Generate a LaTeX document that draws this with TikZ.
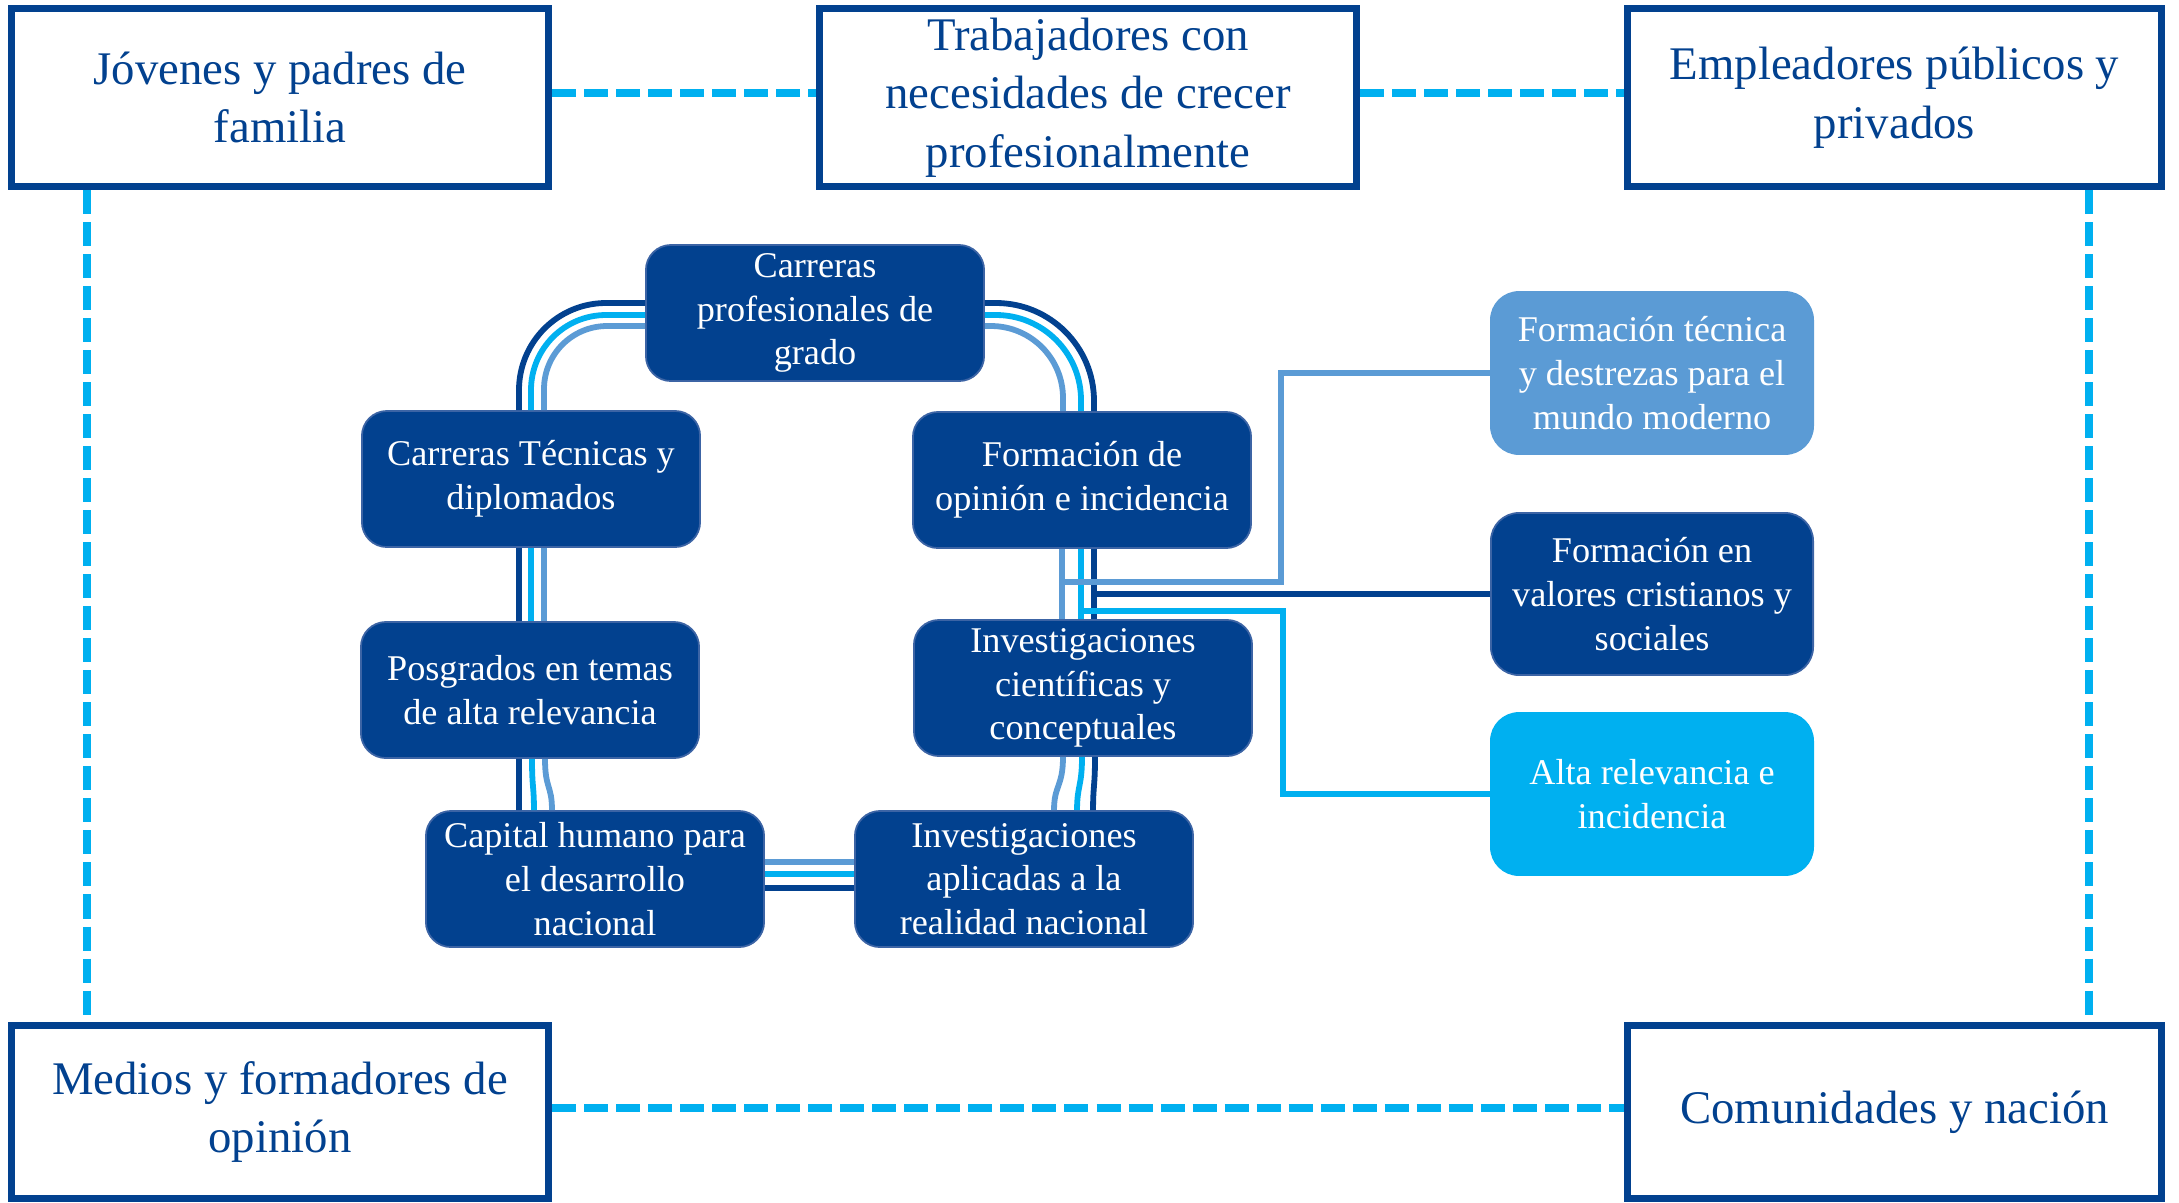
\documentclass[tikz,border=0pt]{standalone}
\usepackage{fontspec}
\setmainfont{Liberation Serif}
\definecolor{dkblue}{RGB}{2,65,143}
\definecolor{ltblue}{RGB}{0,176,240}
\definecolor{mdblue}{RGB}{91,155,213}
\definecolor{edgeblue}{RGB}{60,100,165}
\begin{document}
\begin{tikzpicture}[x=0.01cm,y=-0.01cm,
 outerbox/.style={draw=dkblue, line width=0.075cm, fill=white, text=dkblue, align=center,
   font=\fontsize{13.3}{16.7}\selectfont, inner sep=0pt, minimum width=5.365cm},
 innerbox/.style={fill=dkblue, draw=edgeblue, line width=0.5pt, rounded corners=0.25cm,
   text=white, align=center, font=\fontsize{10.3}{12.4}\selectfont,
   minimum width=3.38cm, minimum height=1.36cm, inner sep=0pt},
 sidebox/.style={innerbox, rounded corners=0.28cm, minimum width=3.22cm, minimum height=1.62cm},
 dashlink/.style={draw=ltblue, line width=0.075cm, dash pattern=on 0.24cm off 0.08cm},
 ringline/.style={line width=0.058cm},
 ldark/.style={ringline, draw=dkblue},
 llight/.style={ringline, draw=ltblue},
 lmed/.style={ringline, draw=mdblue}]
\useasboundingbox (0,0) rectangle (2179,1202);

% outer boxes
\node[outerbox, minimum height=1.775cm] (jov) at (280,97.5) {Jóvenes y padres de\\familia};
\node[outerbox, minimum height=1.775cm] (trab) at (1088,97.5) {Trabajadores con\\necesidades de crecer\\profesionalmente};
\node[outerbox, minimum height=1.775cm, minimum width=5.335cm] (emp) at (1894.5,97.5) {Empleadores públicos y\\privados};
\node[outerbox, minimum height=1.725cm] (med) at (280,1112) {Medios y formadores de\\opinión};
\node[outerbox, minimum height=1.725cm, minimum width=5.335cm] (com) at (1894.5,1112) {Comunidades y nación};

\coordinate (lx) at (87,0);
\coordinate (rx) at (2089,0);
\draw[dashlink] ([yshift=0.045cm]jov.east) -- ([yshift=0.045cm]trab.west);
\draw[dashlink] ([yshift=0.045cm]trab.east) -- ([yshift=0.045cm]emp.west);
\draw[dashlink] (jov.south -| lx) -- (med.north -| lx);
\draw[dashlink] (emp.south -| rx) -- (com.north -| rx);
\draw[dashlink] ([yshift=0.04cm]med.east) -- ([yshift=0.04cm]com.west);

% inner ring boxes
\node[innerbox] (cpg) at (815,313) {Carreras\\profesionales de\\grado};
\node[innerbox] (ctd) at (531,479) {Carreras Técnicas y\\diplomados};
\node[innerbox] (fop) at (1082,480) {Formación de\\opinión e incidencia};
\node[innerbox] (pos) at (530,690) {Posgrados en temas\\de alta relevancia};
\node[innerbox] (icc) at (1083,688) {Investigaciones\\científicas y\\conceptuales};
\node[innerbox] (chd) at (595,879) {Capital humano para\\el desarrollo\\nacional};
\node[innerbox] (iar) at (1024,879) {Investigaciones\\aplicadas a la\\realidad nacional};

% side boxes
\node[sidebox, fill=mdblue, draw=mdblue] (ftd) at (1652,373) {Formación técnica\\y destrezas para el\\mundo moderno};
\node[sidebox] (fvc) at (1652,594) {Formación en\\valores cristianos y\\sociales};
\node[sidebox, fill=ltblue, draw=ltblue] (arl) at (1652,794) {Alta relevancia e\\incidencia};

% ring: top-left arc
\draw[ldark, rounded corners=0.87cm] ([yshift=0.1cm]cpg.west) -| ([xshift=-0.12cm]ctd.north);
\draw[llight, rounded corners=0.75cm] ([yshift=-0.02cm]cpg.west) -| (ctd.north);
\draw[lmed, rounded corners=0.63cm] ([yshift=-0.13cm]cpg.west) -| ([xshift=0.13cm]ctd.north);
% ring: top-right arc
\draw[ldark, rounded corners=0.98cm] ([yshift=0.1cm]cpg.east) -| ([xshift=0.12cm]fop.north);
\draw[llight, rounded corners=0.85cm] ([yshift=-0.02cm]cpg.east) -| ([xshift=-0.01cm]fop.north);
\draw[lmed, rounded corners=0.72cm] ([yshift=-0.13cm]cpg.east) -| ([xshift=-0.19cm]fop.north);
% ring: left verticals
\draw[ldark] ([xshift=-0.12cm]ctd.south) -- ([xshift=-0.12cm]ctd.south |- pos.north);
\draw[llight] (ctd.south) -- (ctd.south |- pos.north);
\draw[lmed] ([xshift=0.13cm]ctd.south) -- ([xshift=0.13cm]ctd.south |- pos.north);
\draw[ldark] ([xshift=-0.11cm]pos.south) -- ([xshift=-0.76cm]chd.north);
\draw[llight] ([xshift=0.02cm]pos.south) .. controls +(0,-0.3cm) and +(0,0.25cm) .. ([xshift=-0.61cm]chd.north);
\draw[lmed] ([xshift=0.15cm]pos.south) .. controls +(0,-0.3cm) and +(0,0.25cm) .. ([xshift=-0.43cm]chd.north);
% ring: bottom
\draw[lmed] ([yshift=0.17cm]chd.east) -- ([yshift=0.17cm]iar.west);
\draw[llight] ([yshift=0.05cm]chd.east) -- ([yshift=0.05cm]iar.west);
\draw[ldark] ([yshift=-0.09cm]chd.east) -- ([yshift=-0.09cm]iar.west);
% ring: right verticals
\draw[ldark] ([xshift=0.69cm]iar.north) .. controls +(0,0.25cm) and +(0,-0.3cm) .. ([xshift=0.12cm]icc.south);
\draw[llight] ([xshift=0.53cm]iar.north) .. controls +(0,0.25cm) and +(0,-0.3cm) .. ([xshift=-0.01cm]icc.south);
\draw[lmed] ([xshift=0.30cm]iar.north) .. controls +(0,0.25cm) and +(0,-0.3cm) .. ([xshift=-0.20cm]icc.south);
\draw[ldark] ([xshift=0.12cm]fop.south) -- ([xshift=0.12cm]fop.south |- icc.north);
\draw[llight] ([xshift=-0.01cm]fop.south) -- ([xshift=-0.01cm]fop.south |- icc.north);
\draw[lmed] ([xshift=-0.2cm]fop.south) -- ([xshift=-0.2cm]fop.south |- icc.north);

% branches
\draw[lmed] ([xshift=-0.2cm,yshift=-0.33cm]fop.south) -| ([xshift=-2.09cm]ftd.west) -- (ftd.west);
\draw[ldark] ([xshift=0.12cm]fop.south |- fvc.west) -- (fvc.west);
\draw[llight] ([xshift=-0.01cm,yshift=-0.62cm]fop.south) -| ([xshift=-2.07cm]arl.west) -- (arl.west);
\end{tikzpicture}
\end{document}
